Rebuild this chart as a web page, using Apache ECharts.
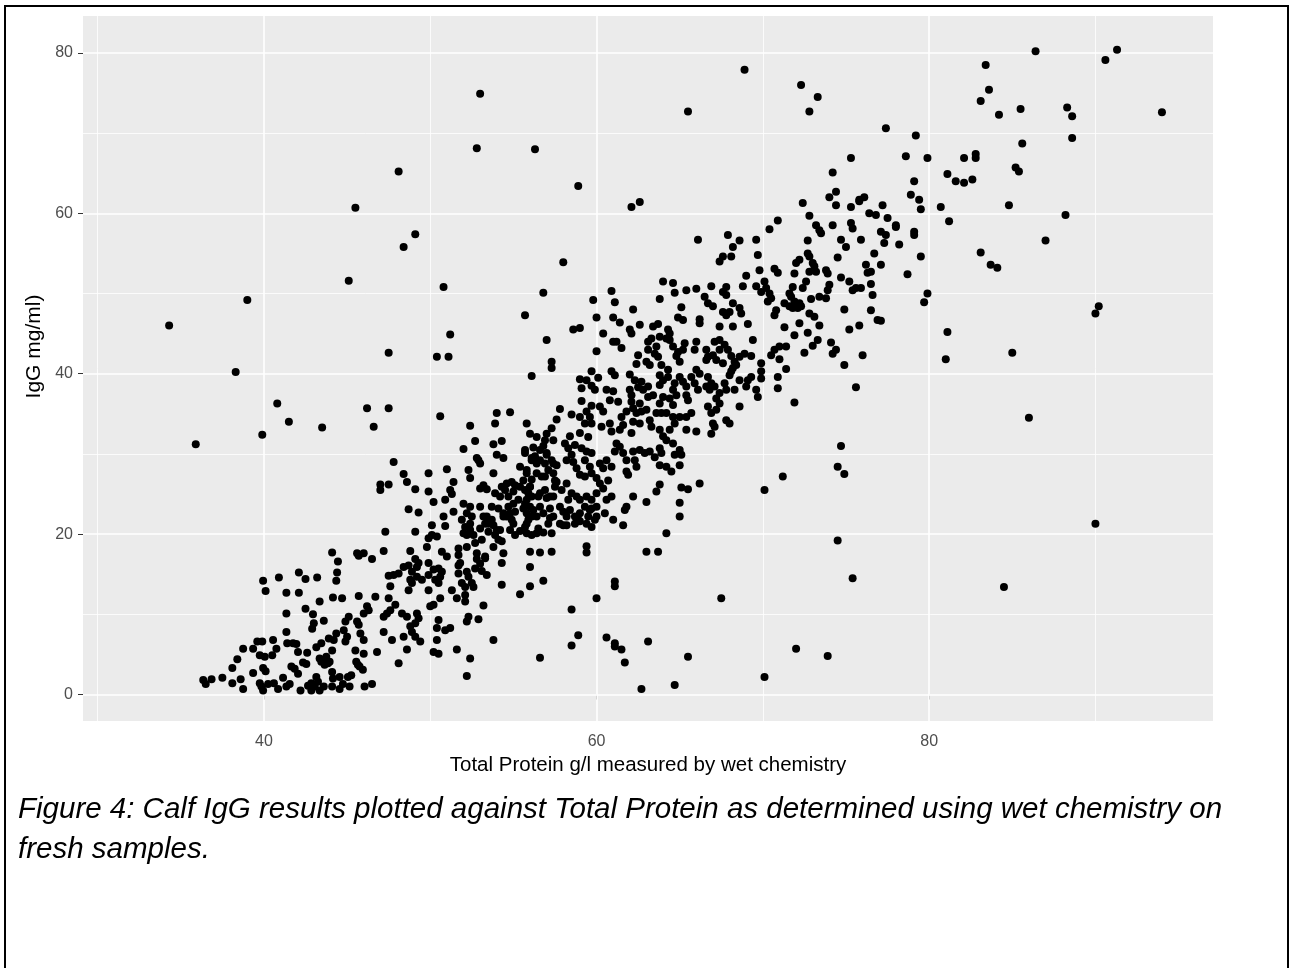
<!DOCTYPE html>
<html>
<head>
<meta charset="utf-8">
<script src="https://cdn.jsdelivr.net/npm/echarts@6/dist/echarts.min.js"></script>
<style>
html,body{margin:0;padding:0;background:#fff;}
#chart{position:absolute;left:0;top:0;width:1290px;height:968px;}
#frame{position:absolute;left:4px;top:5px;width:1281px;height:1000px;border:2px solid #000;pointer-events:none;}
</style>
</head>
<body>
<div id="chart"></div>
<div id="frame"></div>
<script>
// Axis ticks / gridlines
const xTicks = [40, 60, 80];
const xMinorGrid = [30, 50, 70, 90];
const yTicks = [0, 20, 40, 60, 80];
const yMinorGrid = [10, 30, 50, 70];
const xTitle = 'Total Protein g/l measured by wet chemistry';
const yTitle = 'IgG mg/ml)';
const captionLines = ['Figure 4: Calf IgG results plotted against Total Protein as determined using wet chemistry on', 'fresh samples.'];

// [Total protein g/l, IgG mg/ml]
const lowCluster = [[44.1,17.7],[44.45,16.6],[39.95,14.2],[40.1,12.9],[40.9,14.6],[42.1,15.2],[42.5,14.4],[43.2,14.6],[44.4,15.2],[44.35,14.2],[41.35,12.7],[42.1,12.7],[43.35,11.6],[44.15,12.1],[42.5,10.7],[42.95,10.0],[41.35,10.1],[43.6,9.2],[43.0,8.9],[42.9,8.2],[41.35,7.8],[39.6,6.6],[39.9,6.6],[40.55,6.8],[40.75,5.7],[40.5,4.9],[41.4,6.4],[41.75,6.4],[41.95,6.3],[42.05,5.3],[38.75,5.7],[39.35,5.7],[39.75,4.9],[40.05,4.7],[38.4,4.4],[38.1,3.3],[39.35,2.7],[39.95,3.3],[40.1,2.9],[42.6,5.2],[43.15,5.9],[43.45,6.4],[44.1,5.5],[43.9,7.0],[44.2,6.8],[44.35,7.6],[43.35,4.5],[43.55,4.3],[43.75,4.7],[43.95,4.1],[43.65,3.7],[43.85,3.9],[43.45,4.1],[42.35,4.0],[42.55,3.8],[41.65,3.5],[41.85,3.2],[42.05,2.6],[36.35,1.8],[36.5,1.3],[36.85,1.9],[37.5,2.1],[38.1,1.4],[38.6,1.9],[38.75,0.7],[39.75,1.4],[39.85,1.0],[39.95,0.5],[40.25,1.3],[40.6,1.4],[40.85,0.7],[41.15,2.1],[41.35,1.0],[41.55,1.3],[42.2,0.5],[42.65,1.1],[42.85,1.4],[42.85,0.5],[43.05,1.0],[43.15,2.2],[43.25,1.6],[43.35,0.5],[43.6,1.0],[44.1,2.8],[44.15,2.0],[44.1,1.0],
[45.55,4.1],[45.65,3.7],[45.75,3.5],[45.95,3.1],[44.55,2.2],[44.75,1.3],[45.05,2.2],[45.25,2.4],[44.55,0.7],[45.15,1.0],[46.05,1.0],[46.5,1.3],[48.1,3.9],[52.2,2.3]];

const band45to57 = [[47.8,29.0],[48.4,27.5],[48.6,26.5],[49.9,27.6],[51.0,28.1],[47.0,26.2],[47.0,25.5],[47.5,26.2],[49.1,25.6],[49.9,25.3],[50.2,24.0],[50.9,24.3],[51.2,25.5],[51.3,25.0],[48.7,23.1],[49.3,22.7],[51.4,26.5],[50.1,21.1],[47.3,20.3],[49.1,20.3],[50.8,22.2],[50.9,21.0],[51.4,22.8],[49.9,19.5],[49.8,18.4],[50.1,19.9],[50.4,19.7],[45.6,17.6],[46.0,17.6],[45.7,17.3],[46.5,16.9],[47.2,17.9],[48.8,17.9],[49.1,16.9],[49.3,16.4],[49.2,15.9],[49.9,16.4],[50.7,17.8],[51.0,17.2],[51.7,18.2],[51.7,17.4],
[47.5,14.8],[47.8,14.9],[48.1,15.1],[48.4,15.9],[48.7,16.1],[48.9,15.3],[47.6,13.5],[48.8,14.3],[48.9,13.9],[49.2,14.7],[49.5,14.3],[49.9,14.9],[50.2,15.6],[50.5,15.7],[50.7,15.3],[50.3,14.3],[50.5,13.9],[50.6,14.7],[48.7,13.0],[49.9,13.0],[50.6,12.0],[51.3,13.0],[51.7,16.1],[51.8,16.4],[51.7,15.1],[52.2,15.3],[52.3,14.7],[51.9,13.9],[52.1,13.4],[52.5,13.9],[52.6,13.4],[51.6,12.0],[52.1,12.4],[52.1,11.6],[52.8,16.9],[53.0,16.3],[52.7,15.7],[53.1,15.4],[53.4,14.9],[53.3,17.0],[54.3,16.4],[54.3,13.7],[53.2,11.1],[55.4,12.5],[56.0,13.5],[56.0,15.9],[56.8,14.2],
[44.7,12.0],[45.7,12.3],[46.7,12.2],[47.5,12.0],[47.9,11.2],[47.6,10.5],[47.4,10.1],[47.2,9.7],[48.3,10.1],[48.6,9.7],[49.2,10.1],[49.3,9.5],[49.1,8.9],[50.0,11.0],[50.2,11.2],[50.5,9.3],[46.2,11.0],[46.0,10.1],[46.3,10.5],[45.1,9.7],[44.9,9.1],[44.8,8.0],[45.6,9.1],[45.7,8.7],[47.2,7.8],[45.8,7.6],[46.0,6.8],[45.0,7.2],[44.9,6.6],[45.5,5.5],[46.0,5.1],[46.8,5.3],[47.7,6.8],[48.4,7.2],[48.8,8.5],[48.9,7.8],[49.1,7.2],[49.4,6.6],[48.6,5.6],[50.4,8.3],[50.4,6.8],[50.9,8.0],[51.2,8.3],[50.2,5.3],[50.5,5.1],[51.6,5.6],[52.2,9.1],[52.3,9.7],[52.9,9.4],[53.8,6.8],[52.4,4.5],[56.6,4.6]];

const band52to64 = [[57.3,41.5],[57.3,40.7],[56.1,39.7],[54.0,35.1],[54.8,35.2],[53.9,33.8],[52.4,33.5],[55.8,33.8],[56.0,32.5],[56.4,32.1],[57.0,32.5],[57.3,33.2],[57.6,34.3],[57.8,35.6],[57.4,31.7],[52.7,31.6],[53.8,31.2],[54.3,31.6],[52.0,30.6],[52.8,29.5],[52.9,29.2],[53.0,28.8],[54.0,29.9],[54.4,29.5],[52.3,28.0],[52.4,27.0],[53.8,27.6],[53.2,26.1],[53.0,25.7],[53.4,25.6],[54.3,25.9],[54.5,25.5],[54.9,26.5],[54.2,24.7],[54.7,24.7],[52.0,23.8],[52.4,23.4],[52.2,22.6],[53.0,23.4],[53.4,22.2],[53.7,21.8],[54.1,23.2],[54.7,23.4],[54.8,22.6],[54.6,22.2],[52.5,22.2],[53.2,22.2],[53.3,21.3],[52.1,20.9],[52.0,20.1],[52.2,19.9],[52.4,20.5],[52.6,19.9],[53.8,21.1],[54.0,20.5],[53.9,19.9],[54.3,19.1],[54.1,19.3],[54.8,20.5],[55.1,19.9],[55.4,20.4],[55.8,20.1],[56.1,19.9],[56.4,20.1],[56.8,20.2],[57.3,20.1],[52.7,18.9],[52.8,17.6],[53.3,17.2],[54.4,17.6],[56.0,17.8],[56.6,17.7],[57.3,17.8],
[55.7,30.5],[56.2,30.8],[56.8,31.0],[57.0,30.1],[56.6,29.2],[56.1,29.2],[55.4,28.4],[55.8,27.6],[56.1,26.8],[56.0,25.9],[55.9,25.1],[55.8,24.3],[56.0,23.4],[55.8,22.6],[55.9,21.8],[56.5,24.7],[57.0,24.5],[57.4,24.7],[56.6,23.4],[57.2,23.2],[56.4,22.2],[57.2,22.0],[56.7,27.2],[57.1,28.0],[57.4,27.6],[57.6,26.5],[56.4,28.8],[55.1,26.1],[55.4,25.9],[55.0,25.3],[55.3,24.3],[57.3,29.2],[57.6,28.6],[56.9,31.7],
[58.1,31.3],[58.3,30.7],[58.5,29.9],[58.6,29.0],[58.8,28.2],[59.1,30.7],[59.4,30.3],[59.7,30.1],[59.3,29.2],[59.6,28.4],[60.2,28.8],[60.4,28.2],[60.6,29.2],[60.9,28.4],[59.0,27.4],[59.3,27.2],[59.7,27.6],[60.0,27.0],[60.2,26.3],[60.4,25.7],[60.7,26.7],[58.2,26.3],[57.9,25.5],[58.5,25.1],[58.8,24.7],[58.3,24.3],[59.0,24.3],[59.4,24.7],[59.7,24.3],[60.0,25.1],[59.3,23.4],[59.7,23.2],[60.0,23.4],[60.6,24.3],[60.9,24.7],[57.8,23.4],[58.0,22.8],[58.4,23.0],[58.2,22.2],[58.7,22.2],[59.0,22.6],[58.9,21.8],[59.6,23.0],[59.5,22.2],[57.8,21.3],[58.0,21.1],[58.2,21.1],[58.7,21.3],[59.0,21.6],[59.4,21.3],[59.7,20.9],[59.9,21.8],[60.0,22.2],[60.5,22.6],[61.0,21.8],[61.6,21.1],[61.7,23.0],[61.8,23.4],[62.2,24.7],[63.0,24.0],[62.3,29.2],[62.4,28.4],[61.8,27.8],[61.9,27.4],[61.4,30.9],[61.6,30.1],[61.8,29.2],[62.2,30.3],[62.6,30.5],[62.9,30.1],[63.2,30.3],[63.5,29.6],[61.2,31.3],[61.1,30.3],[63.0,17.8],[63.7,17.8],[59.4,18.5],[59.4,17.7]];

const bandCore = [[55.6,26.7],[55.7,25.5],[56.1,24.7],[55.6,23.2],[56.1,22.2],[55.7,20.9],[58.4,32.2],[58.7,31.1],[58.2,29.2],[51.9,21.8],[52.4,21.3],[53.0,20.7],[53.5,20.3],[53.1,19.3],[52.2,18.4],[53.8,18.4],[54.4,22.2],[55.1,22.8],[55.0,21.3],[56.9,25.5],[57.5,25.9],[56.3,29.7],[56.9,28.8],
[64.6,43.4],[64.9,42.7],[67.4,43.0],[67.6,41.3],[68.4,41.1],[62.3,39.2],[62.7,39.0],[63.3,44.4],[63.7,42.1],[61.8,35.3],[62.6,36.3],[59.0,32.6],[59.5,32.1],[60.8,36.7],[61.3,36.5],[71.6,48.4],[73.0,53.8],
[55.7,30.1],[56.1,29.5],[56.6,30.5],[57.0,29.9],[57.4,28.8],[55.8,28.0],[56.4,27.6],[56.9,27.2],[57.5,26.7],[56.0,25.9],[56.6,25.1],[57.2,24.7],[55.7,23.8],[56.2,23.0],[56.8,22.6],[57.4,22.2],[55.8,21.3],[56.5,20.7],[57.1,21.3],
[53.2,25.9],[53.9,25.1],[54.6,26.3],[53.7,23.4],[54.4,22.6],[55.0,23.8],[53.5,21.3],[54.2,20.5],[54.9,21.8]];

const band58to70 = [[60.9,50.3],[59.8,49.2],[61.1,48.9],[62.2,48.0],[60.0,47.0],[61.0,47.0],[61.4,46.4],[58.6,45.5],[59.0,45.7],[60.4,45.0],[62.0,45.5],[62.1,45.0],[62.6,46.1],[63.4,45.9],[63.7,46.2],[61.0,44.0],[61.2,44.0],[61.5,43.2],[60.0,42.8],[63.1,44.0],[63.1,43.0],[63.6,43.4],[63.5,42.5],[62.5,42.3],[62.4,41.2],[63.0,41.5],[63.2,41.1],[60.9,40.3],[61.1,39.8],[62.0,39.9],[59.7,40.3],[59.0,39.3],[59.4,39.2],[59.7,38.5],[60.1,39.5],[59.9,38.0],[59.1,38.2],[60.6,38.0],[61.0,37.8],[62.0,38.0],[62.1,37.3],[62.5,38.3],[62.8,38.0],[63.1,38.4],[63.1,37.1],[63.4,37.3],[59.1,36.6],[59.7,36.0],[59.4,35.3],[59.6,34.6],[59.7,33.8],[60.2,35.9],[60.4,35.3],[58.5,34.9],[59.0,34.6],[59.3,33.8],[60.3,33.4],[60.8,33.8],[60.9,32.8],[61.5,34.6],[62.1,36.5],[62.2,35.7],[62.4,35.1],[62.7,35.3],[61.6,33.6],[62.2,34.0],[62.1,32.6],[62.6,33.8],[63.2,34.2],[63.3,33.4],[63.0,35.5],[63.6,35.1],[61.4,33.0],
[64.0,51.5],[64.6,51.3],[64.7,50.1],[63.8,49.3],[65.4,50.4],[66.0,50.6],[66.9,50.9],[67.8,50.8],[68.8,50.9],[69.6,50.9],[66.5,49.6],[66.7,48.8],[67.0,48.4],[67.6,50.2],[67.8,49.8],[68.2,48.8],[68.6,48.2],[68.7,47.5],[67.6,47.7],[67.8,47.3],[68.0,47.7],[65.1,48.3],[64.9,47.0],[65.2,46.7],[66.2,46.8],[66.2,46.3],[67.4,45.9],[68.2,45.9],[69.1,46.2],[69.4,44.2],[64.3,45.5],[64.4,45.0],[64.2,44.4],[64.4,44.2],[63.8,44.6],[65.3,43.8],[65.2,43.0],[64.8,42.2],[65.0,41.5],[66.0,44.0],[65.9,43.0],[66.6,43.0],[66.7,42.1],[66.6,41.7],[67.1,44.0],[67.4,44.2],[67.7,43.6],[67.0,42.3],[67.2,41.7],[67.9,43.0],[68.1,42.2],[68.3,41.5],[68.6,42.1],[68.9,42.5],[69.3,42.2],[68.2,40.7],[68.1,40.3],[68.0,39.8],[68.6,39.2],[69.1,39.2],[69.0,38.4],[69.3,39.6],[69.6,38.0],[69.7,37.1],[63.9,41.1],[64.3,40.5],[63.8,39.8],[64.0,39.2],[63.8,38.6],[64.3,39.6],[64.7,38.8],[64.6,38.0],[65.0,39.6],[65.2,39.0],[65.4,38.4],[65.7,39.6],[65.9,38.8],[66.1,38.0],[66.0,40.5],[66.2,40.0],[66.7,39.6],[66.9,38.8],[66.6,38.4],[66.8,38.0],[67.1,38.4],[67.7,38.8],[67.8,38.0],[68.3,38.0],[67.4,37.6],[67.2,36.9],[64.0,37.1],[64.4,36.9],[64.6,36.1],[64.8,37.3],[65.4,37.3],[65.5,36.7],[63.8,36.3],[63.9,35.1],[64.2,35.1],[64.6,34.6],[64.7,33.8],[65.0,34.6],[65.4,34.6],[65.7,35.1],[66.7,35.9],[66.9,35.1],[67.2,35.5],[67.4,36.3],[68.6,35.9],[67.0,33.8],[67.1,33.4],[67.8,34.2],[68.0,33.8],[66.0,32.8],[66.9,32.5],[63.8,33.0],[64.0,32.2],[64.2,31.7],[64.6,31.3],[65.0,30.5],[64.7,29.9],[65.1,29.9],[63.8,30.7],[63.9,30.1],[64.2,28.4],[64.5,27.8],[63.8,28.6],[65.0,28.6],[64.4,33.0],[65.4,33.0]];

const band66to80 = [[66.1,56.7],[67.9,57.3],[68.6,56.6],[68.2,55.8],[68.1,54.6],[67.6,54.6],[67.4,54.0],[69.6,56.7],[69.7,54.8],[69.0,52.2],[69.8,52.9],
[70.4,58.0],[70.9,59.1],[72.4,61.3],[72.8,59.7],[73.2,58.5],[73.4,57.9],[73.5,57.5],[74.2,58.5],[74.4,61.0],[75.3,60.8],[75.8,61.5],[75.3,58.8],[75.4,58.1],[76.4,60.0],[76.8,59.8],[72.7,56.6],[72.7,55.0],[72.8,54.6],[74.7,56.7],[75.0,55.8],[75.9,56.7],[76.7,55.0],[74.5,54.5],[70.7,53.1],[70.9,52.6],[72.0,53.8],[71.9,52.5],[72.2,54.2],[72.8,52.7],[73.1,53.4],[73.2,52.7],[73.8,52.9],[73.9,52.5],[72.6,51.5],[72.4,50.7],[71.8,50.8],[71.6,50.0],[71.7,49.6],[70.1,51.5],[70.2,50.7],[69.9,50.2],[70.4,50.0],[70.3,49.0],[70.5,49.4],[70.8,47.9],[70.7,47.3],[71.3,48.8],[71.9,49.0],[72.2,48.8],[71.8,48.2],[72.1,48.2],[72.3,48.4],[72.8,47.5],[73.1,47.1],[72.9,49.3],[73.4,49.6],[73.8,49.4],[74.0,51.1],[73.9,50.4],[74.7,52.0],[75.2,51.5],[75.4,50.4],[75.6,50.7],[75.9,50.7],[76.5,51.2],[76.6,49.8],[76.2,53.6],[76.5,52.7],[76.3,52.6],[74.9,48.0],[76.5,47.9],[76.9,46.7],[71.3,45.8],[72.2,46.3],[71.9,44.8],[72.7,45.1],[73.4,46.0],[71.0,43.4],[70.7,43.0],[70.5,42.3],[71.4,43.4],[71.0,41.8],[71.4,40.6],[72.5,42.6],[73.0,43.5],[73.3,44.2],[74.1,43.9],[74.4,43.0],[74.2,42.5],[75.2,45.5],[75.8,46.0],[74.9,41.1],[76.0,42.3],[75.6,38.3],[70.9,39.6],[70.9,38.2],[69.9,41.3],[69.9,40.3],[69.9,39.4],
[72.8,72.7],[75.3,66.9],[74.2,65.1],[74.4,62.7],[74.0,62.0],[75.8,61.7],[76.1,62.0],
[77.4,70.6],[79.2,69.7],[78.6,67.1],[79.9,66.9],[79.1,64.0],[78.9,62.3],[79.4,61.7],[79.5,60.5],[82.1,66.9],[82.8,67.4],[82.8,66.9],[81.1,64.9],[81.6,64.0],[82.1,63.8],[82.6,64.2],[80.7,60.8],[81.2,59.0],[84.2,72.3],[85.2,65.7],[85.4,65.2],[84.8,61.0],[83.1,55.1],[83.7,53.6],[84.1,53.2],[77.2,61.0],[77.5,59.4],[78.0,58.5],[78.0,58.3],[77.1,57.7],[77.4,57.3],[77.3,56.3],[78.2,56.1],[79.1,57.7],[79.1,57.3],[79.5,54.6],[77.1,53.6],[78.7,52.4],[79.9,50.0]];

const scattered = [[86.4,80.2],[85.5,73.0],[85.6,68.7],[88.2,59.8],[87.0,56.6],[88.3,73.2],[88.6,72.1],[88.6,69.4],[90.6,79.1],[91.3,80.4],[94.0,72.6],[83.4,78.5],[83.6,75.4],[83.1,74.0],
[53.0,74.9],[52.8,68.1],[48.1,65.2],[45.5,60.7],[49.1,57.4],[48.4,55.8],[45.1,51.6],[50.8,50.8],[39.0,49.2],[34.3,46.0],[51.2,44.9],[47.5,42.6],[50.4,42.1],[51.1,42.1],[38.3,40.2],[40.8,36.3],[41.5,34.0],[43.5,33.3],[46.2,35.7],[47.5,35.7],[46.6,33.4],[50.6,34.7],[39.9,32.4],[35.9,31.2],
[71.9,36.4],[74.7,31.0],[74.5,28.4],[74.9,27.5],[71.2,27.2],[70.1,25.5],[74.5,19.2],[75.4,14.5],[72.0,5.7],[73.9,4.8],[70.1,2.2],[79.7,48.9],[81.1,45.2],[81.0,41.8],[85.0,42.6],[86.0,34.5],[90.0,47.5],[90.2,48.4],[90.0,21.3],[84.5,13.4],[77.1,46.6],
[61.1,14.1],[61.1,13.5],[60.0,12.0],[58.5,10.6],[58.9,7.4],[58.5,6.1],[60.6,7.1],[61.1,6.4],[61.1,6.0],[61.5,5.6],[61.7,4.0],[62.7,0.7],[63.1,6.6],[63.8,26.2],[63.6,25.3],[65.1,25.8],[65.5,25.6],[66.2,26.3],[65.0,23.9],[65.0,22.2],[64.2,20.1],[67.5,12.0],[65.5,4.7],[64.7,1.2],
[68.9,77.9],[72.3,76.0],[73.3,74.5],[65.5,72.7],[56.3,68.0],[58.9,63.4],[62.1,60.8],[62.6,61.4],[58.0,53.9],[55.7,47.3],[56.8,50.1],[57.0,44.2]];

const allPoints = [].concat(lowCluster, band45to57, band52to64, bandCore, band58to70, band66to80, scattered);

const FONT = 'Liberation Sans, Arial, sans-serif';
const chart = echarts.init(document.getElementById('chart'), null, {renderer: 'canvas'});

const gridLines = [];
xMinorGrid.forEach(v => gridLines.push({xAxis: v, lineStyle: {width: 0.8, color: '#ffffff'}}));
yMinorGrid.forEach(v => gridLines.push({yAxis: v, lineStyle: {width: 0.8, color: '#ffffff'}}));
xTicks.forEach(v => gridLines.push({xAxis: v, lineStyle: {width: 1.6, color: '#ffffff'}}));
yTicks.forEach(v => gridLines.push({yAxis: v, lineStyle: {width: 1.6, color: '#ffffff'}}));

chart.setOption({
  animation: false,
  title: {
    text: captionLines.join('\n'),
    left: 18, top: 790, padding: 0,
    textStyle: {fontFamily: FONT, fontSize: 29.5, fontStyle: 'italic', fontWeight: 'normal', color: '#000', lineHeight: 40}
  },
  grid: {left: 83, right: 77, top: 16, bottom: 247, show: true, backgroundColor: '#EBEBEB', borderWidth: 0, containLabel: false},
  xAxis: {
    type: 'value', min: 29.12, max: 97.07,
    name: xTitle, nameLocation: 'middle', nameGap: 34,
    nameTextStyle: {fontFamily: FONT, fontSize: 20.5, color: '#000'},
    axisLine: {show: false},
    axisTick: {show: true, customValues: xTicks, length: 5, lineStyle: {color: '#333', width: 1}},
    axisLabel: {customValues: xTicks, margin: 13, fontFamily: FONT, fontSize: 16, color: '#4D4D4D'},
    splitLine: {show: false}
  },
  yAxis: {
    type: 'value', min: -3.3, max: 84.6,
    name: yTitle, nameLocation: 'middle', nameGap: 25, nameRotate: 90,
    nameTextStyle: {fontFamily: FONT, fontSize: 21, color: '#000', padding: [0, 0, 0, 44]},
    axisLine: {show: false},
    axisTick: {show: true, customValues: yTicks, length: 5, lineStyle: {color: '#333', width: 1}},
    axisLabel: {customValues: yTicks, margin: 10, fontFamily: FONT, fontSize: 16, color: '#4D4D4D'},
    splitLine: {show: false}
  },
  series: [
    {
      type: 'scatter', data: [], z: 1, silent: true,
      markLine: {silent: true, z: 1, symbol: 'none', label: {show: false}, animation: false,
        lineStyle: {type: 'solid'}, data: gridLines}
    },
    {
      type: 'scatter', data: allPoints, z: 3, symbol: 'circle', symbolSize: 8,
      itemStyle: {color: '#000', opacity: 1}
    }
  ]
});
</script>
</body>
</html>
